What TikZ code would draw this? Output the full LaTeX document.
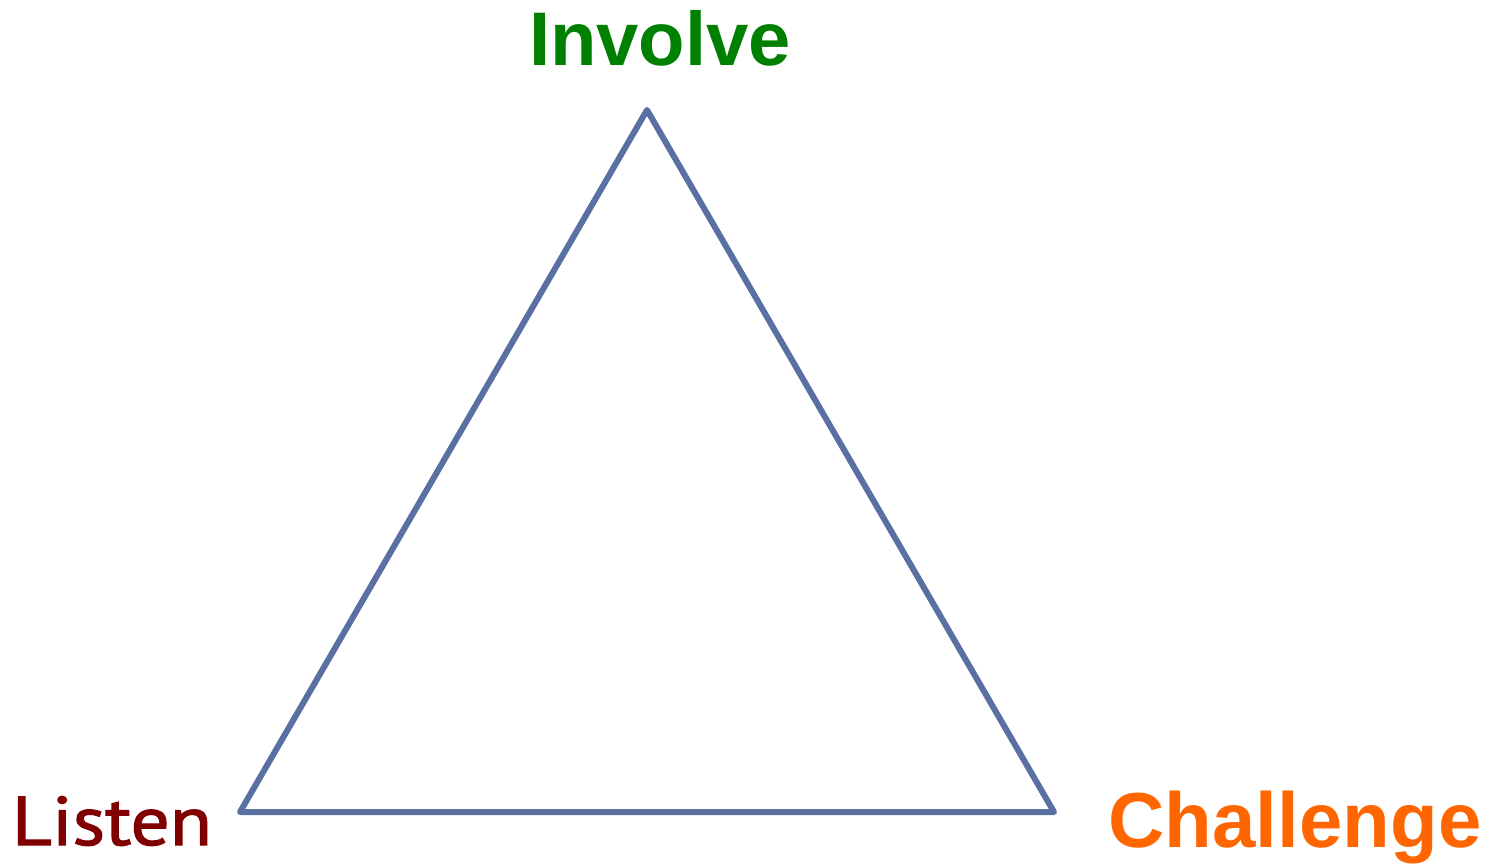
\documentclass[tikz,border=0pt]{standalone}
\usepackage{fontspec}
\newfontfamily\arialf{Liberation Sans}
\newfontfamily\gillf[FakeBold=1.6]{PT Sans}
\definecolor{tri}{RGB}{90,111,162}
\definecolor{inv}{RGB}{0,128,0}
\definecolor{lis}{RGB}{128,0,0}
\definecolor{cha}{RGB}{255,102,0}
\begin{document}
\begin{tikzpicture}[x=1pt,y=-1pt,
  lbl/.style={inner sep=0pt,anchor=base},
  edge/.style={draw=tri,line width=6pt,line join=round,line cap=round}]
\useasboundingbox (0,0) rectangle (1497,865);
\coordinate (top) at (647,110);
\coordinate (bl) at (240,812);
\coordinate (br) at (1054,812);
\draw[edge] (top) -- (bl) -- (br) -- cycle;
\node[lbl,text=inv,font=\arialf\bfseries\fontsize{76}{80}\selectfont] (involve) at (660,65) {Involve};
\node[lbl,text=cha,font=\arialf\bfseries\fontsize{78}{80}\selectfont] (challenge) at (1295,847) {Challenge};
\node[lbl,xscale=1.12,text=lis,font=\gillf\fontsize{69}{74}\selectfont] (listen) at (112,845) {Listen};
\end{tikzpicture}
\end{document}
